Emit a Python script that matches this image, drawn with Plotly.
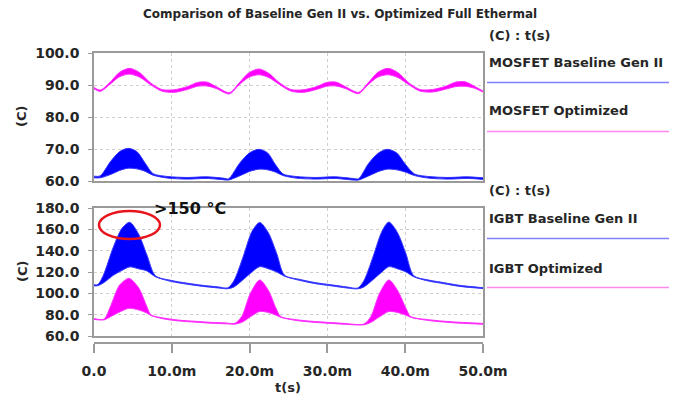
import plotly.graph_objects as go

# ---------------- data (times in ms, temperatures in C) ----------------
# MOSFET Optimized (magenta band, top panel)
mos_opt_t = [0, 0.8, 2.0, 3.3, 4.6, 5.9, 7.2, 8.7, 10.3, 12.0, 13.3, 14.5, 15.7, 17.4,
             18.6, 19.9, 21.2, 22.5, 23.8, 25.3, 26.9, 28.6, 29.9, 31.1, 32.3, 34.0,
             35.2, 36.5, 37.8, 39.1, 40.4, 41.9, 43.5, 45.2, 46.5, 47.7, 48.9, 50.0]
mos_opt_hi = [89.2, 88.4, 90.7, 94.0, 95.2, 93.8, 90.8, 88.6, 88.5, 89.5, 90.8, 90.9, 89.5, 87.6,
              90.5, 93.8, 95.0, 93.6, 90.8, 88.6, 88.5, 89.5, 90.8, 90.9, 89.5, 87.7,
              90.6, 94.0, 95.2, 93.8, 90.8, 88.6, 88.6, 89.6, 90.9, 91.0, 89.6, 88.1]
mos_opt_lo = [88.8, 88.0, 90.1, 92.6, 93.4, 92.4, 90.2, 88.1, 87.7, 88.6, 89.6, 89.7, 88.9, 87.2,
              89.9, 92.4, 93.2, 92.3, 90.2, 88.1, 87.7, 88.6, 89.6, 89.7, 88.9, 87.3,
              90.0, 92.5, 93.2, 92.3, 90.2, 88.1, 87.8, 88.7, 89.5, 89.6, 89.0, 87.8]

# MOSFET Baseline Gen II (blue band, top panel)
mos_base_t = [0, 0.8, 2.1, 3.3, 4.4, 5.5, 6.6, 7.6, 9.5, 12.0, 14.5, 16.6, 17.3, 18.7, 20.0,
              21.2, 22.3, 23.3, 24.3, 26.0, 28.5, 31.0, 33.3, 34.0, 35.3, 36.6, 37.7, 38.9,
              40.0, 41.2, 43.0, 45.5, 48.0, 50.0]
mos_base_hi = [61.5, 61.6, 66.0, 69.2, 70.2, 69.2, 65.5, 62.3, 61.4, 61.1, 61.3, 60.9, 60.7,
               65.5, 68.8, 69.9, 68.8, 65.2, 62.2, 61.4, 61.1, 61.3, 60.8, 60.7, 65.5, 68.8,
               69.9, 68.8, 65.3, 62.2, 61.4, 61.1, 61.3, 61.0]
mos_base_lo = [61.0, 61.0, 62.0, 63.3, 64.0, 63.8, 63.0, 61.8, 60.9, 60.6, 60.8, 60.4, 60.3,
               61.6, 63.0, 63.7, 63.5, 62.8, 61.7, 60.9, 60.6, 60.8, 60.3, 60.3, 61.6, 63.0,
               63.7, 63.5, 62.8, 61.7, 60.9, 60.6, 60.8, 60.5]

# IGBT Baseline Gen II (blue band, bottom panel)
igbt_base_t = [0, 0.5, 1.2, 2.5, 3.6, 4.6, 5.7, 6.8, 7.9, 10.0, 12.0, 14.0, 16.0, 17.2,
               18.0, 19.2, 20.3, 21.3, 22.4, 23.5, 24.5, 26.5, 28.5, 30.5, 32.5, 33.9,
               34.7, 35.9, 37.0, 37.9, 39.0, 40.1, 41.1, 43.0, 45.0, 47.0, 50.0]
igbt_base_hi = [108.0, 108.3, 117.0, 143.7, 161.0, 166.6, 156.0, 136.0, 116.5, 112.0, 109.5,
                107.5, 106.0, 105.2, 112.0, 135.0, 158.0, 166.5, 157.0, 137.0, 117.0, 113.0,
                110.0, 108.0, 106.0, 105.0, 112.0, 135.0, 158.0, 166.8, 157.0, 137.0, 116.5,
                112.5, 110.0, 107.5, 105.3]
igbt_base_lo = [107.0, 107.2, 109.7, 117.0, 121.5, 124.8, 123.0, 121.0, 115.5, 111.0, 108.5,
                106.5, 105.0, 104.3, 106.0, 113.0, 120.0, 125.0, 123.0, 120.0, 116.0, 112.0,
                109.0, 107.0, 105.0, 104.2, 106.0, 113.0, 120.0, 125.0, 123.0, 120.0, 115.5,
                111.5, 109.0, 106.5, 104.5]

# IGBT Optimized (magenta band, bottom panel)
igbt_opt_t = [0, 1.3, 2.1, 3.3, 4.5, 5.7, 6.8, 7.3, 9.0, 11.0, 13.0, 15.0, 17.0, 18.1, 19.0,
              20.1, 21.3, 22.4, 23.4, 24.0, 26.0, 28.0, 30.0, 32.0, 34.7, 35.6, 36.7, 37.9,
              39.0, 40.1, 40.7, 43.0, 46.0, 50.0]
igbt_opt_hi = [76.3, 75.9, 87.5, 107.8, 114.0, 105.6, 87.5, 80.0, 76.8, 74.8, 73.8, 72.8, 72.2,
               71.9, 78.5, 100.0, 112.5, 103.0, 86.0, 78.3, 75.3, 73.8, 72.8, 71.9, 71.3, 78.5,
               100.0, 112.5, 103.0, 86.0, 78.3, 75.3, 73.3, 71.8]
igbt_opt_lo = [75.5, 75.1, 78.0, 82.5, 86.0, 84.5, 81.5, 79.2, 76.0, 74.0, 73.0, 72.0, 71.4,
               71.1, 72.8, 78.0, 83.0, 82.0, 79.5, 77.5, 74.5, 73.0, 72.0, 71.1, 70.5, 72.8,
               78.0, 83.0, 82.0, 79.5, 77.5, 74.5, 72.5, 71.0]

x_ticks = [0, 0.01, 0.02, 0.03, 0.04, 0.05]
x_tick_text = ["0.0", "10.0m", "20.0m", "30.0m", "40.0m", "50.0m"]
top_ticks = [60, 70, 80, 90, 100]
bot_ticks = [60, 80, 100, 120, 140, 160, 180]

# ---------------- geometry helpers (pixels -> paper) ----------------
W, H = 683, 401
def px(x):
    return x / W
def py(y):
    return 1 - y / H

BLUE = "#0000ff"
MAG = "#ff00ff"
FONT = "DejaVu Sans"
TXT = "#262626"

fig = go.Figure()

def band(t, lo, hi, color, line_color, xa, ya):
    ts = [v / 1000.0 for v in t]
    fig.add_trace(go.Scatter(x=ts, y=lo, mode="lines", xaxis=xa, yaxis=ya,
                             line=dict(color=line_color, width=1, shape="spline", smoothing=0.8),
                             showlegend=False, hoverinfo="skip"))
    fig.add_trace(go.Scatter(x=ts, y=hi, mode="lines", xaxis=xa, yaxis=ya, fill="tonexty",
                             fillcolor=color,
                             line=dict(color=line_color, width=1, shape="spline", smoothing=0.8),
                             showlegend=False, hoverinfo="skip"))

band(mos_opt_t, mos_opt_lo, mos_opt_hi, MAG, "#ff30ff", "x", "y")
band(mos_base_t, mos_base_lo, mos_base_hi, BLUE, "#3030ff", "x", "y")
band(igbt_base_t, igbt_base_lo, igbt_base_hi, BLUE, "#3a3aff", "x2", "y2")
band(igbt_opt_t, igbt_opt_lo, igbt_opt_hi, MAG, "#ff30ff", "x2", "y2")

# dummy trace for the stand-alone time axis
fig.add_trace(go.Scatter(x=[0, 0.05], y=[0, 0], mode="none", xaxis="x3", yaxis="y3",
                         showlegend=False, hoverinfo="skip"))

xdom = [px(94), px(483)]
frame = dict(showline=True, mirror=True, linecolor="#9a9a9a", linewidth=1.5)
grid = dict(showgrid=True, gridcolor="#cfcfcf", griddash="dot", gridwidth=1)
tickfont = dict(family=FONT, size=14, color=TXT, weight="bold")

xbase = dict(domain=xdom, range=[0, 0.05], tickvals=x_ticks, showticklabels=False,
             ticks="", zeroline=False, automargin=False, **frame, **grid)
fig.update_layout(
    xaxis=dict(anchor="y", **xbase),
    xaxis2=dict(anchor="y2", **xbase),
    xaxis3=dict(anchor="y3", domain=xdom, range=[0, 0.05], tickvals=x_ticks,
                ticktext=x_tick_text, showline=True, linecolor="#9a9a9a", linewidth=1.5,
                ticks="outside", ticklen=9, tickwidth=1.5, tickcolor="#9a9a9a",
                showgrid=False, zeroline=False, tickfont=tickfont, automargin=False,
                ticklabelstandoff=6),
    yaxis=dict(anchor="x", domain=[py(181), py(53)], range=[60, 100], tickvals=top_ticks,
               tickformat=".1f", ticks="outside", ticklen=4, tickcolor="#9a9a9a",
               tickfont=tickfont, zeroline=False, automargin=False, ticklabelstandoff=6,
               **frame, **grid),
    yaxis2=dict(anchor="x2", domain=[py(336), py(208)], range=[60, 180], tickvals=bot_ticks,
                tickformat=".1f", ticks="outside", ticklen=4, tickcolor="#9a9a9a",
                tickfont=tickfont, zeroline=False, automargin=False, ticklabelstandoff=6,
                **frame, **grid),
    yaxis3=dict(anchor="x3", domain=[py(342), py(339)], range=[-1, 1], visible=False),
    width=W, height=H,
    margin=dict(l=0, r=0, t=0, b=0),
    paper_bgcolor="white", plot_bgcolor="white",
    showlegend=False,
)

def txt(x, y, s, size=13, xanchor="left", angle=0, color=TXT):
    fig.add_annotation(x=px(x), y=py(y), xref="paper", yref="paper", text=s,
                       showarrow=False, xanchor=xanchor, yanchor="middle", textangle=angle,
                       font=dict(family=FONT, size=size, color=color, weight="bold"))

txt(340, 14, "Comparison of Baseline Gen II vs. Optimized Full Ethermal", size=12,
    xanchor="center")
txt(22, 117, "(C)", size=13, xanchor="center", angle=-90)
txt(22, 272, "(C)", size=13, xanchor="center", angle=-90)
txt(288, 387, "t(s)", size=13, xanchor="center")

# legend-like labels
txt(487, 35, "(C) : t(s)", size=13)
txt(487, 62, "MOSFET Baseline Gen II", size=13)
txt(487, 111, "MOSFET Optimized", size=13)
txt(487, 190, "(C) : t(s)", size=13)
txt(487, 219, "IGBT Baseline Gen II", size=13)
txt(487, 268, "IGBT Optimized", size=13)

for yy, col in [(82.5, "#8080ff"), (131.5, "#ff88ee"), (238.5, "#8080ff"), (287.5, "#ff88ee")]:
    fig.add_shape(type="line", xref="paper", yref="paper", x0=px(487), x1=px(669),
                  y0=py(yy), y1=py(yy), line=dict(color=col, width=1.5))

# highlight annotation
txt(152, 208, "&gt;150 °C", size=16, color="#111111")
fig.add_shape(type="circle", xref="x2", yref="y2", x0=0.00064, x1=0.00848, y0=150.9, y1=177.2,
              line=dict(color="#e8141c", width=2.5))

fig.write_html("out.html")
